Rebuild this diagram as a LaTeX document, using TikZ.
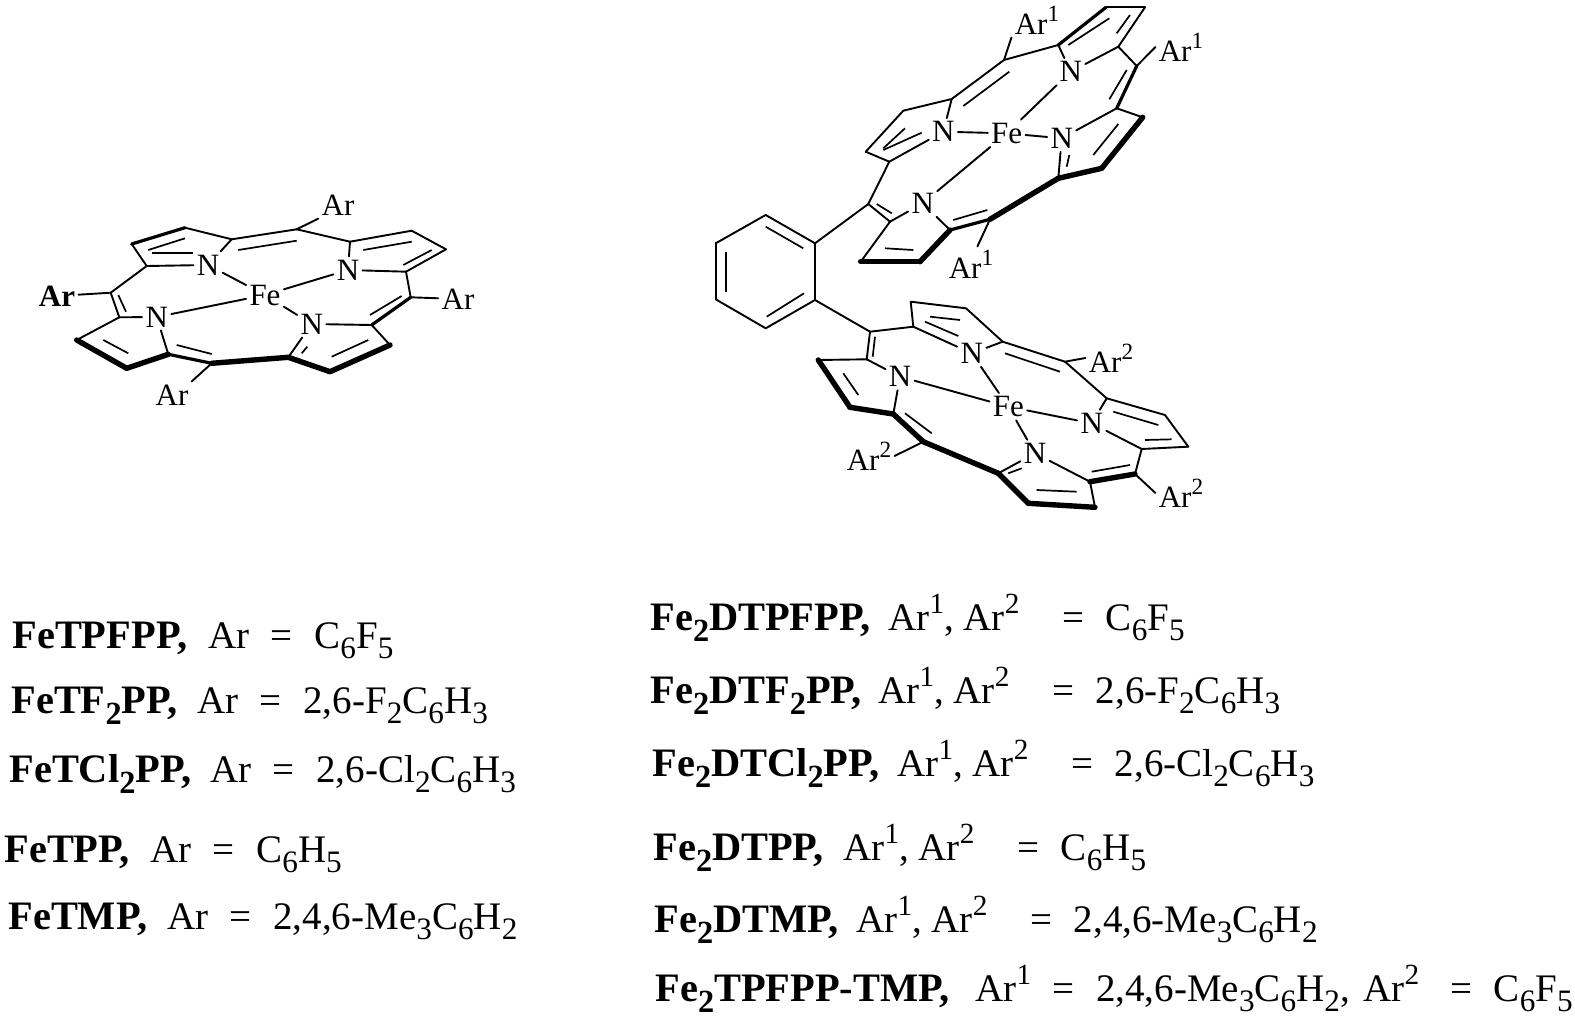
\documentclass[tikz,border=0pt]{standalone}
\usepackage{fontspec}
\setmainfont{Liberation Serif}
\tikzset{atom/.style={inner sep=1.5pt, font=\fontsize{15.5}{16}\selectfont}, % Atoms and Ar groups
         namelbl/.style={anchor=base west, inner sep=0pt, font=\fontsize{20.2}{22}\selectfont\bfseries},
         vallbl/.style={anchor=base west, inner sep=0pt, font=\fontsize{19.5}{22}\selectfont},
         bond/.style={line width=.95pt, line cap=round},
         midbond/.style={line width=1.6pt, line cap=round},
         thickbond/.style={line width=2.7pt, line cap=round},
         innerbond/.style={line width=.85pt}}
\newcommand{\eqgap}{\hspace{.55em}=\hspace{.55em}}
\newcommand{\sbs}[1]{\raisebox{-.28em}{\scalebox{.8}{#1}}}
\newcommand{\sps}[1]{\raisebox{.42em}{\scalebox{.75}{#1}}}
\begin{document}
\begin{tikzpicture}[x=.5pt,y=-.5pt]
\useasboundingbox (0,0) rectangle (1575,1017);

% left porphyrin
\foreach \n/\x/\y in {l1/146.7/266,l2/131.7/244,l3/185/227.7,l4/231.7/239.3,l5/296.7/229.3,
  l6/350/241.7,l7/411.7/230.7,l8/446/249.3,l9/406/271.7,l10/410.7/297.3,l11/371.7/325,
  l12/390/345,l13/330/371.7,l14/288.3/357.3,l15/211.7/363.3,l16/168.3/354.3,l17/126.7/368.3,
  l18/76.7/340,l19/119.3/317.3,l20/110.7/292.7}
  \coordinate (\n) at (\x,\y);
\node[atom] (lN1) at (208,265) {N};
\node[atom] (lN2) at (348,270) {N};
\node[atom] (lN3) at (311.7,324) {N};
\node[atom] (lN4) at (156.7,317) {N};
\node[atom] (lFe) at (265,295) {Fe};
\node[atom] (lAr1) at (338,205) {Ar};
\node[atom] (lAr2) at (458,299) {Ar};
\node[atom] (lAr3) at (172,395) {Ar};
\node[atom, font=\fontsize{15.5}{16}\selectfont\bfseries] (lAr4) at (57,296) {Ar};

\foreach \a/\b in {l1/l2,l3/l4,l4/lN1,l1/lN1,l4/l5,l5/l6,l6/l7,l7/l8,l8/l9,l9/lN2,l6/lN2,l9/l10,
  l11/lN3,l11/l12,l14/lN3,l16/lN4,l18/l19,l19/lN4,l19/l20,l20/l1,lN1/lFe,lN2/lFe,lN3/lFe,lN4/lFe,
  l5/lAr1.south west,l10/lAr2,l15/lAr3.north east,l20/lAr4}
  \draw[bond] (\a) -- (\b);
\foreach \a/\b in {l2/l3,l10/l11,l15/l16}
  \draw[midbond] (\a) -- (\b);
\foreach \a/\b in {l12/l13,l13/l14,l14/l15,l16/l17,l17/l18}
  \draw[thickbond] (\a) -- (\b);
\foreach \n/\x/\y/\u/\v in {la/148.3/250/185/238.3,lb/151.7/253.3/193.3/253.3,lc/238.3/250/296.7/240.7,
  ld/363.3/250/411.7/241.7,le/403.3/265/431.7/250,lf/370/315/401.7/296,lg/301.7/353.3/307.3/346.7,
  lh/331.7/356.7/368.3/340,li/176.7/345/211.7/354,lj/118.3/295/126/311.7,lk/103.3/340/128.3/353.3}
  {\coordinate (\n1) at (\x,\y); \coordinate (\n2) at (\u,\v);
   \draw[innerbond] (\n1) -- (\n2);}

% upper porphyrin
\foreach \n/\x/\y in {t1/1004/60,t2/1058.3/45,t3/1106/7.3,t4/1145/7.3,t5/1118.3/46.7,t6/1136.7/66,
  t7/1116.7/108.3,t8/1142.7/117.3,t9/1101.7/168.3,t10/1058.3/178.3,t11/990/219.3,t12/950/230,
  t13/920/261.7,t14/860.7/261.7,t15/890/221.7,t16/868.3/204,t17/889.3/161.7,t18/865.7/151.7,
  t19/903.3/110.7,t20/951.7/99}
  \coordinate (\n) at (\x,\y);
\node[atom] (tN1) at (1070.7,71.7) {N};
\node[atom] (tN2) at (1061.7,138.3) {N};
\node[atom] (tN3) at (922.7,203.3) {N};
\node[atom] (tN4) at (943.3,131.7) {N};
\node[atom] (tFe) at (1006.7,133.3) {Fe};
\node[atom] (tAr1) at (1037,20) {Ar\sps{1}};
\node[atom] (tAr2) at (1181,47) {Ar\sps{1}};
\node[atom] (tAr3) at (971,264) {Ar\sps{1}};

\foreach \a/\b in {t1/t2,t3/t4,t4/t5,t5/t6,t2/tN1,t5/tN1,t7/t8,t7/tN2,t10/tN2,t12/tN3,t15/tN3,t14/t15,
  t15/t16,t16/t17,t17/t18,t18/t19,t19/t20,t20/t1,t20/tN4,t17/tN4,tN1/tFe,tN2/tFe,tN3/tFe,tN4/tFe,
  t1/tAr1.south west,t6/tAr2.west,t11/tAr3.70}
  \draw[bond] (\a) -- (\b);
\foreach \a/\b in {t2/t3,t6/t7,t11/t12}
  \draw[midbond] (\a) -- (\b);
\foreach \a/\b in {t8/t9,t9/t10,t10/t11,t12/t13,t13/t14}
  \draw[thickbond] (\a) -- (\b);
\foreach \n/\x/\y/\u/\v in {ta/963.3/106/1009.3/71.7,tb/1068.3/45/1109.3/18.3,tc/1130/15/1116.7/33.3,
  td/1126.7/70/1109.3/99.3,te/1118.3/124/1093.3/155,tf/1066.7/166.7/1069.3/155,tg/953.3/220/987.3/210,
  th/885/248.3/913.3/250,ti/876.7/204/891.7/213.3,tj/883.3/148.3/905/128.3,tk/883.3/150/921.7/132.7}
  {\coordinate (\n1) at (\x,\y); \coordinate (\n2) at (\u,\v);
   \draw[innerbond] (\n1) -- (\n2);}

% lower porphyrin
\foreach \n/\x/\y in {b1/870/331.7,b2/913.3/326.7,b3/910.7/301.7,b4/966/308.3,b5/1002.7/341.7,b6/1065/361.7,
  b7/1106.7/398.3,b8/1165/415,b9/1188.3/446.7,b10/1141.7/449,b11/1135/474,b12/1090/481.7,b13/1095/507.3,
  b14/1028.3/503.3,b15/998.3/473.3,b16/923.3/441.7,b17/893.3/414,b18/850/407.3,b19/818.3/360,b20/866.7/359.3}
  \coordinate (\n) at (\x,\y);
\node[atom] (bN1) at (971.7,353.3) {N};
\node[atom] (bN2) at (1091.7,423.3) {N};
\node[atom] (bN3) at (1035,453.3) {N};
\node[atom] (bN4) at (900,376.7) {N};
\node[atom] (bFe) at (1008.3,406.7) {Fe};
\node[atom] (bAr1) at (1111,358) {Ar\sps{2}};
\node[atom] (bAr2) at (1181,493) {Ar\sps{2}};
\node[atom] (bAr3) at (869,456) {Ar\sps{2}};

\foreach \a/\b in {b1/b2,b2/b3,b3/b4,b4/b5,b5/b6,b6/b7,b7/b8,b8/b9,b9/b10,b10/b11,b12/b13,b2/bN1,b5/bN1,
  b7/bN2,b10/bN2,b12/bN3,b15/bN3,b17/bN4,b20/bN4,b19/b20,b20/b1,bN1/bFe,bN2/bFe,bN3/bFe,bN4/bFe,
  b6/bAr1.west,b11/bAr2.west,b16/bAr3.east}
  \draw[bond] (\a) -- (\b);
\foreach \a/\b in {b11/b12,b13/b14,b14/b15,b15/b16,b16/b17,b17/b18,b18/b19}
  \draw[thickbond] (\a) -- (\b);
\foreach \n/\x/\y/\u/\v in {ba/930/316.7/960/320,bb/925/321.7/958.3/336,bc/1005/353.3/1060/371.7,
  bd/1113.3/411.7/1158.3/425,be/1145/440/1171.7/439.3,bf/1091.7/471.7/1130/465,bg/1036.7/490/1076.7/491.7,
  bh/1008.3/473.3/1021.7/468.3,bi/905/413.3/931.7/433.3,bj/843.3/373.3/858.3/395,bk/875/336.7/872.7/356.7}
  {\coordinate (\n1) at (\x,\y); \coordinate (\n2) at (\u,\v);
   \draw[innerbond] (\n1) -- (\n2);}

% phenylene bridge
\foreach \n/\x/\y in {ph1/815/243.3,ph2/765.7/215,ph3/715.7/243.3,ph4/715.7/299.3,ph5/765.7/328.3,ph6/815/300}
  \coordinate (\n) at (\x,\y);
\foreach \a/\b in {ph1/ph2,ph2/ph3,ph3/ph4,ph4/ph5,ph5/ph6,ph6/ph1,ph1/t16,ph6/b1}
  \draw[bond] (\a) -- (\b);
\foreach \n/\x/\y/\u/\v in {pa/765.7/226.7/803.3/248.3,pb/726/251.7/726/291.7,pc/766.7/316.7/804/293.3}
  {\coordinate (\n1) at (\x,\y); \coordinate (\n2) at (\u,\v);
   \draw[innerbond] (\n1) -- (\n2);}

% left column
\node[namelbl] (nA1) at (12,648) {FeTPFPP,};
\node[vallbl] (vA1) at (208,648) {Ar\eqgap C\sbs{6}F\sbs{5}};
\node[namelbl] (nA2) at (11,713) {FeTF\sbs{2}PP,};
\node[vallbl] (vA2) at (197,713) {Ar\eqgap 2,6-F\sbs{2}C\sbs{6}H\sbs{3}};
\node[namelbl] (nA3) at (9,782) {FeTCl\sbs{2}PP,};
\node[vallbl] (vA3) at (210,782) {Ar\eqgap 2,6-Cl\sbs{2}C\sbs{6}H\sbs{3}};
\node[namelbl] (nA4) at (4,862) {FeTPP,};
\node[vallbl] (vA4) at (150,862) {Ar\eqgap C\sbs{6}H\sbs{5}};
\node[namelbl] (nA5) at (8,929) {FeTMP,};
\node[vallbl] (vA5) at (167,929) {Ar\eqgap 2,4,6-Me\sbs{3}C\sbs{6}H\sbs{2}};

% right column
\node[namelbl] (nB1) at (650,630) {Fe\sbs{2}DTPFPP,};
\node[vallbl] (vB1) at (888,630) {Ar\sps{1}, Ar\sps{2}\hspace{.55em}\eqgap C\sbs{6}F\sbs{5}};
\node[namelbl] (nB2) at (650,703) {Fe\sbs{2}DTF\sbs{2}PP,};
\node[vallbl] (vB2) at (878,703) {Ar\sps{1}, Ar\sps{2}\hspace{.55em}\eqgap 2,6-F\sbs{2}C\sbs{6}H\sbs{3}};
\node[namelbl] (nB3) at (652,776) {Fe\sbs{2}DTCl\sbs{2}PP,};
\node[vallbl] (vB3) at (897,776) {Ar\sps{1}, Ar\sps{2}\hspace{.55em}\eqgap 2,6-Cl\sbs{2}C\sbs{6}H\sbs{3}};
\node[namelbl] (nB4) at (653,860) {Fe\sbs{2}DTPP,};
\node[vallbl] (vB4) at (843,860) {Ar\sps{1}, Ar\sps{2}\hspace{.55em}\eqgap C\sbs{6}H\sbs{5}};
\node[namelbl] (nB5) at (654,932) {Fe\sbs{2}DTMP,};
\node[vallbl] (vB5) at (856,932) {Ar\sps{1}, Ar\sps{2}\hspace{.55em}\eqgap 2,4,6-Me\sbs{3}C\sbs{6}H\sbs{2}};
\node[namelbl] (nB6) at (655,1001) {Fe\sbs{2}TPFPP-TMP,};
\node[vallbl] (vB6) at (975,1001) {Ar\sps{1}\eqgap 2,4,6-Me\sbs{3}C\sbs{6}H\sbs{2},\hspace{.1em} Ar\sps{2}\hspace{.25em}\eqgap C\sbs{6}F\sbs{5}};
\end{tikzpicture}
\end{document}
